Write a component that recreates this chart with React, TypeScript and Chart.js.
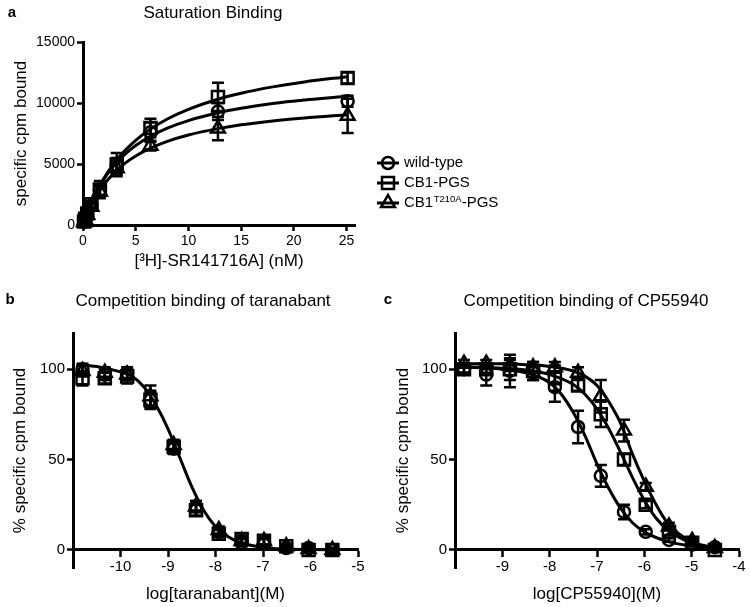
import React, { useEffect, useRef } from 'react';
import { Chart, registerables } from 'chart.js';

Chart.register(...registerables);

const FONT = "'Liberation Sans', Arial, Helvetica, sans-serif";

// ---------- Panel a: Saturation binding ----------
const satConc = [0.1, 0.2, 0.4, 0.8, 1.6, 3.2, 6.4, 12.8, 25.1];
const satWild = [250, 480, 900, 1600, 2850, 4900, 7600, 9300, 10150];
const satWildErr = [60, 80, 120, 200, 400, 600, 800, 700, 450];
const satPgs = [280, 520, 950, 1700, 2900, 4950, 7950, 10500, 12050];
const satPgsErr = [70, 100, 150, 250, 700, 950, 750, 1150, 450];
const satT210 = [230, 450, 850, 1500, 2750, 4650, 6500, 7900, 8950];
const satT210Err = [60, 80, 120, 200, 400, 500, 400, 950, 1400];
const satCurveX = [0, 0.5, 1, 2, 3, 4, 5, 6.4, 8, 10, 12.8, 15, 18, 21, 25.1];
const satWildCurve = [0, 1230, 2230, 3790, 4930, 5810, 6510, 7270, 7940, 8560, 9200, 9570, 9960, 10250, 10560];
const satPgsCurve = [0, 1190, 2210, 3850, 5110, 6120, 6940, 7860, 8690, 9480, 10310, 10800, 11320, 11730, 12160];
const satT210Curve = [0, 1090, 1970, 3330, 4310, 5070, 5660, 6300, 6860, 7380, 7900, 8210, 8530, 8770, 9030];
const satXTicks = [0, 5, 10, 15, 20, 25];
const satYTicks = [0, 5000, 10000, 15000];

// ---------- Panel b: Competition binding of taranabant ----------
const taraLog = [-10.8, -10.33, -9.86, -9.37, -8.88, -8.41, -7.93, -7.45, -6.98, -6.51, -6.04, -5.54];
const taraWild = [100, 97, 98, 83, 56, 24, 10, 4, 4, 1, 1, 0];
const taraWildErr = [3, 3, 3, 4, 3, 3, 2, 2, 2, 1, 1, 1];
const taraPgs = [95, 95, 96, 83, 57, 22, 9, 6, 5, 2, 0, 0];
const taraPgsErr = [4, 3, 4, 5, 3, 3, 2, 2, 2, 1, 1, 1];
const taraT210 = [99, 98, 97, 85, 58, 24, 11, 5, 5, 2, 0.5, 0];
const taraT210Err = [3, 3, 3, 6, 3, 3, 2, 2, 2, 1, 1, 1];
const taraCurveX = [-10.9, -10.5, -10, -9.75, -9.5, -9.25, -9, -8.75, -8.5, -8.25, -8, -7.75, -7.5, -7, -6.5, -6, -5.5];
const taraCurve = [102.5, 101.5, 98.5, 96, 90, 80, 67, 51, 35, 22, 13, 7.5, 4.3, 1.4, 0.5, 0.2, 0.1];
const taraXTicks = [-10, -9, -8, -7, -6, -5];

// ---------- Panel c: Competition binding of CP55940 ----------
const cpLog = [-9.81, -9.34, -8.84, -8.35, -7.89, -7.4, -6.92, -6.43, -5.97, -5.48, -4.99, -4.51];
const cpWild = [100, 97, 99, 98, 90, 68, 41, 21, 10, 5.5, 3, 1.5];
const cpWildErr = [2, 6, 9, 4, 8, 9, 6, 4, 1.5, 1, 1, 1];
const cpPgs = [100, 100, 100, 99, 95, 91, 75, 50, 25, 10, 4, 0];
const cpPgsErr = [2, 2, 6, 5, 7, 3, 7, 3, 2, 2, 1, 1];
const cpT210 = [103, 103, 102, 101, 101, 98, 85, 66, 35, 13, 5, 1];
const cpT210Err = [2, 2, 3, 3, 3, 3, 9, 6, 2, 2, 1, 1];
const cpWildCurveX = [-9.9, -9.5, -9, -8.5, -8, -7.75, -7.5, -7.25, -7, -6.75, -6.5, -6.25, -6, -5.5, -5, -4.5];
const cpWildCurve = [101.5, 101, 100, 98, 92.5, 86, 76, 63, 47.5, 34, 23, 15, 10, 4.6, 2.2, 1.0];
const cpPgsCurveX = [-9.9, -9, -8.5, -8, -7.5, -7.25, -7, -6.75, -6.5, -6.25, -6, -5.75, -5.5, -5, -4.5];
const cpPgsCurve = [101, 100.5, 99.5, 97, 91.5, 86, 78, 67, 54, 40, 27.5, 17.5, 11, 3.8, 1.0];
const cpT210CurveX = [-9.9, -9, -8.5, -8, -7.5, -7.25, -7, -6.75, -6.5, -6.25, -6, -5.75, -5.5, -5.25, -5, -4.5];
const cpT210Curve = [103, 103, 102.5, 101.5, 99, 96, 91, 82, 70, 53, 38, 25, 14.5, 8.5, 4.5, 1.0];
const cpXTicks = [-9, -8, -7, -6, -5, -4];

const compYTicks = [0, 50, 100];
const seriesNames = ['wild-type', 'CB1-PGS', 'CB1T210A-PGS'];

type Series = {
  label: string;
  ys: number[];
  errs: number[];
  style: string;
  r: number;
  curveX?: number[];
  curveY?: number[];
};

function buildDatasets(xs: number[], series: Series[], sharedCurve?: { x: number[]; y: number[] }) {
  const ds: any[] = [];
  if (sharedCurve) {
    ds.push({
      label: 'fit',
      data: sharedCurve.x.map((x, i) => ({ x, y: sharedCurve.y[i] })),
      showLine: true,
      borderColor: '#000',
      borderWidth: 3,
      pointRadius: 0,
      pointHoverRadius: 0,
      cubicInterpolationMode: 'monotone',
      fill: false,
      clip: false,
    });
  }
  series.forEach((s) => {
    if (s.curveX && s.curveY) {
      const cy = s.curveY;
      ds.push({
        label: s.label + ' fit',
        data: s.curveX.map((x, i) => ({ x, y: cy[i] })),
        showLine: true,
        borderColor: '#000',
        borderWidth: 3,
        pointRadius: 0,
        pointHoverRadius: 0,
        cubicInterpolationMode: 'monotone',
        fill: false,
        clip: false,
      });
    }
    ds.push({
      label: s.label,
      data: xs.map((x, i) => ({ x, y: s.ys[i] })),
      errors: s.errs,
      showLine: false,
      pointStyle: s.style,
      pointRadius: s.r,
      pointHoverRadius: s.r,
      pointBorderWidth: 2.5,
      pointBorderColor: '#000',
      pointBackgroundColor: 'rgba(0,0,0,0)',
      borderColor: '#000',
      backgroundColor: 'rgba(0,0,0,0)',
      clip: false,
    });
  });
  return ds;
}

const errorBarPlugin = {
  id: 'errorBars',
  afterDatasetsDraw(chart: any) {
    const { ctx } = chart;
    const xs = chart.scales.x;
    const ys = chart.scales.y;
    chart.data.datasets.forEach((ds: any) => {
      if (!ds.errors) return;
      ctx.save();
      ctx.strokeStyle = '#000';
      ctx.lineWidth = 2.5;
      ds.data.forEach((p: any, i: number) => {
        const e = ds.errors[i];
        if (!e) return;
        const px = xs.getPixelForValue(p.x);
        const top = ys.getPixelForValue(p.y + e);
        const bot = ys.getPixelForValue(p.y - e);
        const cap = 6;
        ctx.beginPath();
        ctx.moveTo(px, top);
        ctx.lineTo(px, bot);
        ctx.moveTo(px - cap, top);
        ctx.lineTo(px + cap, top);
        ctx.moveTo(px - cap, bot);
        ctx.lineTo(px + cap, bot);
        ctx.stroke();
      });
      ctx.restore();
    });
  },
};

type TextItem = { text: string; x: number; y: number; size: number; bold?: boolean };

function textPlugin(items: TextItem[], extra?: (ctx: CanvasRenderingContext2D) => void) {
  return {
    id: 'panelText',
    afterDraw(chart: any) {
      const ctx: CanvasRenderingContext2D = chart.ctx;
      ctx.save();
      ctx.fillStyle = '#000';
      ctx.textAlign = 'center';
      ctx.textBaseline = 'middle';
      items.forEach((it) => {
        ctx.font = `${it.bold ? 'bold ' : ''}${it.size}px ${FONT}`;
        ctx.fillText(it.text, it.x, it.y);
      });
      if (extra) extra(ctx);
      ctx.restore();
    },
  };
}

function drawMarker(ctx: CanvasRenderingContext2D, style: string, x: number, y: number) {
  ctx.beginPath();
  if (style === 'circle') {
    ctx.arc(x, y, 6, 0, Math.PI * 2);
  } else if (style === 'rect') {
    ctx.rect(x - 6, y - 6, 12, 12);
  } else {
    const r = 8;
    ctx.moveTo(x, y - r);
    ctx.lineTo(x + r * Math.cos(Math.PI / 6), y + r / 2);
    ctx.lineTo(x - r * Math.cos(Math.PI / 6), y + r / 2);
    ctx.closePath();
  }
  ctx.stroke();
}

function drawLegend(ctx: CanvasRenderingContext2D) {
  const styles = ['circle', 'rect', 'triangle'];
  const ys = [163, 183, 203];
  ctx.strokeStyle = '#000';
  ctx.fillStyle = '#000';
  styles.forEach((st, i) => {
    const y = ys[i];
    ctx.lineWidth = 3;
    ctx.beginPath();
    ctx.moveTo(377, y);
    ctx.lineTo(399, y);
    ctx.stroke();
    ctx.lineWidth = 2.5;
    drawMarker(ctx, st, 388, y);
    ctx.textAlign = 'left';
    ctx.textBaseline = 'middle';
    ctx.font = `15px ${FONT}`;
    if (i < 2) {
      ctx.fillText(seriesNames[i], 404, y);
    } else {
      const a = 'CB1';
      ctx.fillText(a, 404, y);
      let xx = 404 + ctx.measureText(a).width;
      ctx.font = `9.5px ${FONT}`;
      ctx.fillText('T210A', xx + 0.5, y - 4);
      xx += ctx.measureText('T210A').width + 0.5;
      ctx.font = `15px ${FONT}`;
      ctx.fillText('-PGS', xx, y);
    }
  });
}

function axisBase(tickSize: number, ticks: number[]) {
  return {
    type: 'linear' as const,
    afterBuildTicks: (s: any) => {
      s.ticks = ticks.map((v) => ({ value: v }));
    },
    grid: {
      display: true,
      drawOnChartArea: false,
      drawTicks: true,
      tickLength: 6,
      tickWidth: 2.5,
      tickColor: '#000',
    },
    border: { display: true, color: '#000', width: 3 },
    ticks: {
      color: '#000',
      font: { family: FONT, size: tickSize },
      padding: 2,
      autoSkip: false,
      maxRotation: 0,
      callback: (v: any) => String(v),
    },
  };
}

function makeSaturation() {
  return {
    type: 'scatter' as const,
    data: {
      datasets: buildDatasets(satConc, [
        { label: 'wild-type', ys: satWild, errs: satWildErr, style: 'circle', r: 6, curveX: satCurveX, curveY: satWildCurve },
        { label: 'CB1-PGS', ys: satPgs, errs: satPgsErr, style: 'rect', r: 8.5, curveX: satCurveX, curveY: satPgsCurve },
        { label: 'CB1T210A-PGS', ys: satT210, errs: satT210Err, style: 'triangle', r: 8, curveX: satCurveX, curveY: satT210Curve },
      ]),
    },
    options: {
      responsive: false,
      animation: false as const,
      events: [],
      layout: { padding: { left: 0, top: 42, right: 165, bottom: 0 } },
      plugins: { legend: { display: false }, tooltip: { enabled: false }, title: { display: false } },
      scales: {
        x: {
          ...axisBase(14, satXTicks),
          min: 0,
          max: 25.8,
          position: 'bottom',
          afterFit: (s: any) => {
            s.height = 57;
          },
          title: {
            display: true,
            text: '[³H]-SR141716A] (nM)',
            color: '#000',
            font: { family: FONT, size: 17 },
            padding: { top: 0, bottom: 10 },
          },
        },
        y: {
          ...axisBase(14, satYTicks),
          min: 0,
          max: 15000,
          position: 'left',
          afterFit: (s: any) => {
            s.width = 83;
          },
          title: {
            display: true,
            text: 'specific cpm bound',
            color: '#000',
            font: { family: FONT, size: 17 },
            padding: { top: 11, bottom: 0 },
          },
        },
      },
    },
    plugins: [
      errorBarPlugin,
      textPlugin(
        [
          { text: 'a', x: 12, y: 13, size: 15, bold: true },
          { text: 'Saturation Binding', x: 213, y: 13, size: 17 },
        ],
        drawLegend
      ),
    ],
  };
}

function makeCompetition(
  xs: number[],
  series: Series[],
  shared: { x: number[]; y: number[] } | undefined,
  xmin: number,
  xmax: number,
  xticks: number[],
  xTitle: string,
  yAxisWidth: number,
  yTitlePad: number,
  padRight: number,
  letter: string,
  letterX: number,
  title: string,
  titleX: number
) {
  return {
    type: 'scatter' as const,
    data: { datasets: buildDatasets(xs, series, shared) },
    options: {
      responsive: false,
      animation: false as const,
      events: [],
      layout: { padding: { left: 0, top: 48, right: padRight, bottom: 39 } },
      plugins: { legend: { display: false }, tooltip: { enabled: false }, title: { display: false } },
      scales: {
        x: {
          ...axisBase(15, xticks),
          min: xmin,
          max: xmax,
          position: { y: 0 },
          afterFit: (s: any) => {
            s.height = 55;
          },
          title: {
            display: true,
            text: xTitle,
            color: '#000',
            font: { family: FONT, size: 17 },
            padding: { top: 0, bottom: 0 },
          },
        },
        y: {
          ...axisBase(15, compYTicks),
          min: -10,
          max: 120,
          position: 'left',
          afterFit: (s: any) => {
            s.width = yAxisWidth;
          },
          title: {
            display: true,
            text: '% specific cpm bound',
            color: '#000',
            font: { family: FONT, size: 17 },
            padding: { top: yTitlePad, bottom: 0 },
          },
        },
      },
    },
    plugins: [
      errorBarPlugin,
      textPlugin([
        { text: letter, x: letterX, y: 15, size: 15, bold: true },
        { text: title, x: titleX, y: 16, size: 17 },
      ]),
    ],
  };
}

function ChartPanel(props: { left: number; top: number; width: number; height: number; make: () => any }) {
  const ref = useRef<HTMLCanvasElement | null>(null);
  useEffect(() => {
    const chart = new Chart(ref.current as HTMLCanvasElement, props.make());
    return () => chart.destroy();
  }, []);
  return (
    <canvas
      ref={ref}
      width={props.width}
      height={props.height}
      style={{ position: 'absolute', left: props.left, top: props.top, width: props.width, height: props.height }}
    />
  );
}

export default function App() {
  return (
    <div style={{ position: 'absolute', left: 0, top: 0, width: 750, height: 607, background: '#fff', overflow: 'hidden' }}>
      <ChartPanel left={0} top={0} width={520} height={282} make={makeSaturation} />
      <ChartPanel
        left={0}
        top={285}
        width={375}
        height={322}
        make={() =>
          makeCompetition(
            taraLog,
            [
              { label: 'wild-type', ys: taraWild, errs: taraWildErr, style: 'circle', r: 6 },
              { label: 'CB1-PGS', ys: taraPgs, errs: taraPgsErr, style: 'rect', r: 8.5 },
              { label: 'CB1T210A-PGS', ys: taraT210, errs: taraT210Err, style: 'triangle', r: 8 },
            ],
            { x: taraCurveX, y: taraCurve },
            -11,
            -5,
            taraXTicks,
            'log[taranabant](M)',
            73,
            10,
            17,
            'b',
            10,
            'Competition binding of taranabant',
            203
          )
        }
      />
      <ChartPanel
        left={380}
        top={285}
        width={370}
        height={322}
        make={() =>
          makeCompetition(
            cpLog,
            [
              { label: 'wild-type', ys: cpWild, errs: cpWildErr, style: 'circle', r: 6, curveX: cpWildCurveX, curveY: cpWildCurve },
              { label: 'CB1-PGS', ys: cpPgs, errs: cpPgsErr, style: 'rect', r: 8.5, curveX: cpPgsCurveX, curveY: cpPgsCurve },
              { label: 'CB1T210A-PGS', ys: cpT210, errs: cpT210Err, style: 'triangle', r: 8, curveX: cpT210CurveX, curveY: cpT210Curve },
            ],
            undefined,
            -10,
            -4,
            cpXTicks,
            'log[CP55940](M)',
            75,
            13,
            10,
            'c',
            8,
            'Competition binding of CP55940',
            206
          )
        }
      />
    </div>
  );
}
